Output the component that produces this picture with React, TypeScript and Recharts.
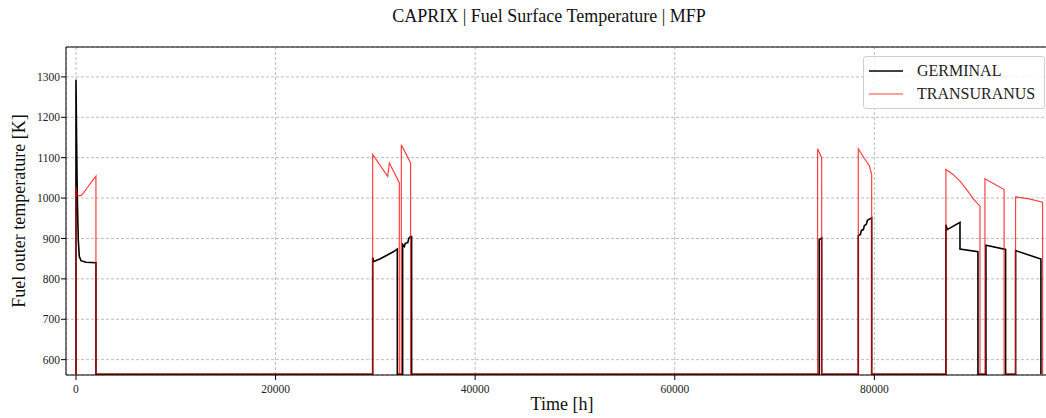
import { LineChart, Line, XAxis, YAxis, CartesianGrid, ReferenceLine } from 'recharts'

// temperature when the pin is out of the reactor
const OFF = 564

// [time h, temperature K]
const germinal: [number, number][] = [
  [0, OFF], [0, 1293], [60, 1150], [130, 1004], [230, 897], [330, 856], [500, 845], [1000, 841], [2000, 840], [2000, OFF],
  [29730, OFF], [29730, 852], [29850, 843], [30500, 850], [31200, 859], [31800, 867], [32200, 874], [32200, OFF],
  [32730, OFF], [32730, 885], [32900, 880], [33000, 888], [33250, 890], [33350, 900], [33530, 905], [33630, 905], [33630, OFF],
  [74470, OFF], [74470, 897], [74720, 901], [74720, OFF],
  [78390, OFF], [78390, 907], [78600, 910], [78700, 920], [78900, 922], [79000, 932], [79200, 935], [79300, 945], [79500, 948], [79730, 951], [79730, OFF],
  [87170, OFF], [87170, 934], [87300, 922], [88580, 940], [88580, 874], [90380, 867], [90380, OFF],
  [91180, OFF], [91180, 883], [93150, 873], [93150, OFF],
  [94150, OFF], [94150, 870], [96690, 849], [96690, OFF],
]

const transuranus: [number, number][] = [
  [0, OFF], [0, 1030], [100, 1006], [500, 1006], [800, 1014], [1100, 1025], [1500, 1038], [2000, 1054], [2000, OFF],
  [29730, OFF], [29730, 1108], [31230, 1054], [31400, 1087], [32400, 1038], [32400, OFF],
  [32600, OFF], [32600, 1132], [33530, 1087], [33530, OFF],
  [74310, OFF], [74310, 1122], [74720, 1100], [74720, OFF],
  [78390, OFF], [78390, 1122], [79000, 1098], [79500, 1080], [79730, 1058], [79730, OFF],
  [87170, OFF], [87170, 1071], [87910, 1058], [88580, 1042], [89250, 1021], [89910, 998], [90580, 980], [90580, OFF],
  [91080, OFF], [91080, 1048], [93000, 1021], [93000, OFF],
  [94150, OFF], [94150, 1003], [95500, 998], [96860, 990], [96860, OFF],
]

const xTicks = [0, 20000, 40000, 60000, 80000]
const yTicks = [600, 700, 800, 900, 1000, 1100, 1200, 1300]
const X_DOMAIN: [number, number] = [-1000, 97800]
const Y_DOMAIN: [number, number] = [562, 1374]

const toRows = (pts: [number, number][]) => pts.map(([x, y]) => ({ x, y }))

const font = "'Liberation Serif', 'Times New Roman', serif"

export default function App() {
  return (
    <div
      className="fig"
      style={{
        position: 'absolute',
        left: 0,
        top: 0,
        width: 1046,
        height: 418,
        overflow: 'hidden',
        background: '#fff',
        fontFamily: font,
      }}
    >
      <style>{`.fig svg text { font-family: ${font}; }`}</style>
      <LineChart width={1060} height={418} margin={{ top: 47, right: 8, left: 0, bottom: 0 }}>
        <CartesianGrid stroke="#bdbdbd" strokeDasharray="3 2" />
        <XAxis
          dataKey="x"
          type="number"
          domain={X_DOMAIN}
          ticks={xTicks}
          allowDataOverflow
          height={43}
          tickSize={5}
          tickMargin={5}
          stroke="#000"
          tick={{ fill: '#222', fontSize: 11.5 }}
        />
        <YAxis
          type="number"
          domain={Y_DOMAIN}
          ticks={yTicks}
          allowDataOverflow
          width={66}
          tickSize={5}
          tickMargin={1}
          stroke="#000"
          tick={{ fill: '#222', fontSize: 11.5 }}
        />
        <ReferenceLine y={Y_DOMAIN[1]} stroke="#000" />
        <Line
          data={toRows(germinal)}
          dataKey="y"
          type="linear"
          stroke="#000"
          strokeWidth={1.6}
          dot={false}
          activeDot={false}
          isAnimationActive={false}
        />
        <Line
          data={toRows(transuranus)}
          dataKey="y"
          type="linear"
          stroke="#ff0000"
          strokeOpacity={0.75}
          strokeWidth={1.2}
          dot={false}
          activeDot={false}
          isAnimationActive={false}
        />
      </LineChart>

      <div
        style={{
          position: 'absolute',
          left: 249,
          top: 7,
          width: 600,
          textAlign: 'center',
          fontSize: 18,
          lineHeight: '18px',
          color: '#111',
        }}
      >
        CAPRIX | Fuel Surface Temperature | MFP
      </div>

      <div
        style={{
          position: 'absolute',
          left: 412,
          top: 395,
          width: 300,
          textAlign: 'center',
          fontSize: 18,
          lineHeight: '18px',
          color: '#111',
        }}
      >
        Time [h]
      </div>

      <div
        style={{
          position: 'absolute',
          left: 19 - 150,
          top: 211 - 9,
          width: 300,
          height: 18,
          textAlign: 'center',
          fontSize: 18,
          lineHeight: '18px',
          color: '#111',
          transform: 'rotate(-90deg)',
        }}
      >
        Fuel outer temperature [K]
      </div>

      <div
        style={{
          position: 'absolute',
          left: 863,
          top: 56,
          width: 180,
          height: 51,
          border: '1px solid #d0d0d0',
          borderRadius: 3,
          background: 'rgba(255,255,255,0.8)',
          fontSize: 16,
          color: '#222',
        }}
      >
        {[
          { name: 'GERMINAL', color: '#000', opacity: 1, width: 1.6 },
          { name: 'TRANSURANUS', color: '#ff0000', opacity: 0.75, width: 1.2 },
        ].map((s, i) => (
          <div
            key={s.name}
            style={{ position: 'absolute', left: 4, top: 4 + i * 22.5, height: 20, display: 'flex', alignItems: 'center' }}
          >
            <svg width={36} height={20} style={{ display: 'block' }}>
              <line x1={1} x2={35} y1={10} y2={10} stroke={s.color} strokeOpacity={s.opacity} strokeWidth={s.width} />
            </svg>
            <span style={{ marginLeft: 13, lineHeight: '20px' }}>{s.name}</span>
          </div>
        ))}
      </div>
    </div>
  )
}
